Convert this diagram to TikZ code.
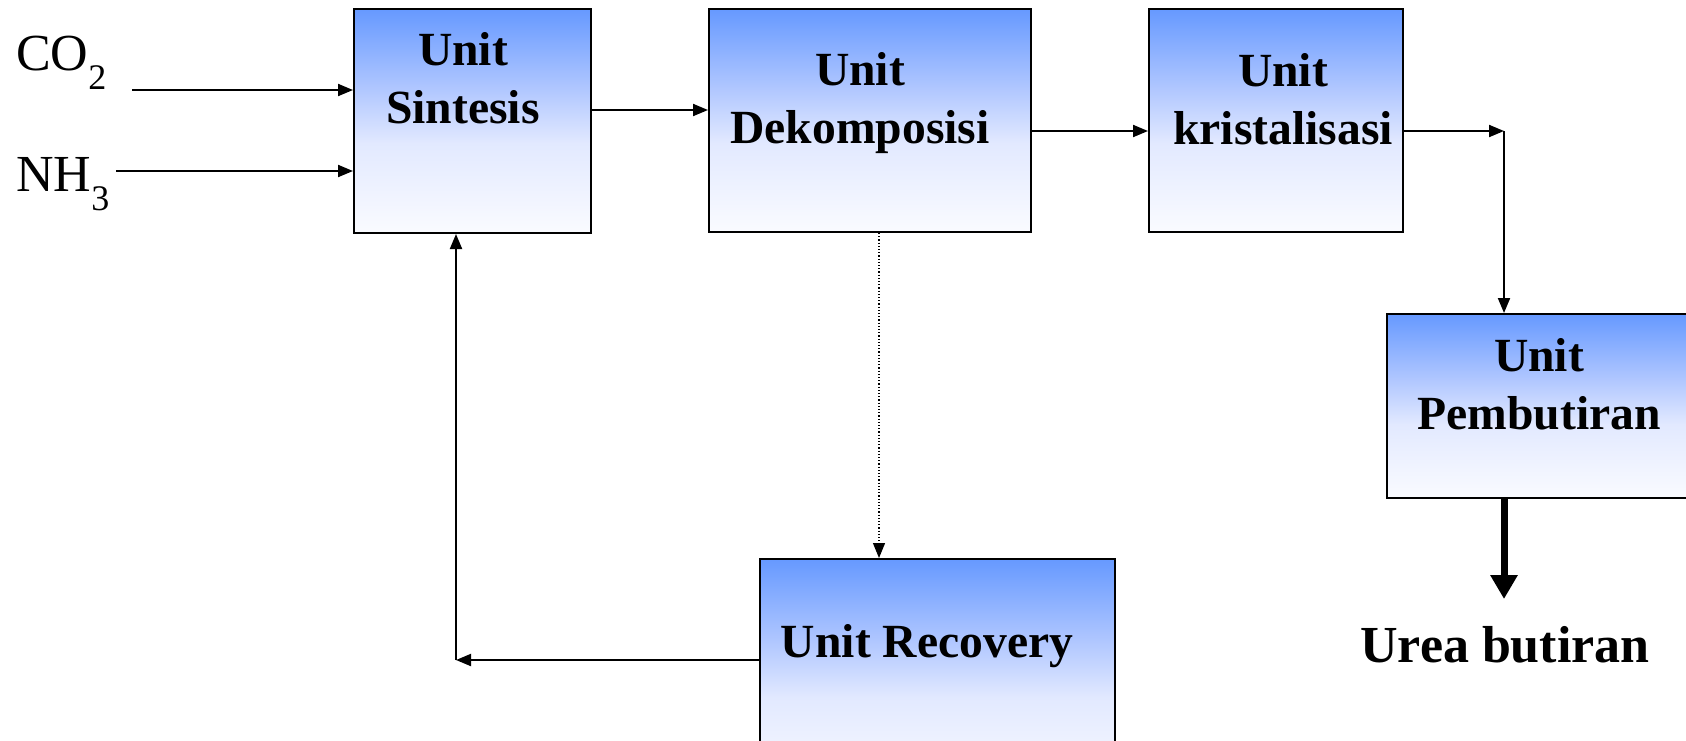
\documentclass[tikz,border=0pt]{standalone}
\usepackage{fontspec}
\setmainfont{Liberation Serif}
\usetikzlibrary{arrows.meta}
\definecolor{gtop}{RGB}{102,153,255}
\definecolor{gmid}{RGB}{175,198,255}
\definecolor{glow}{RGB}{226,233,255}
\definecolor{gbot}{RGB}{250,251,255}
\pgfdeclareverticalshading{boxshade}{100bp}{color(0bp)=(gbot); color(25bp)=(gbot); color(45bp)=(glow); color(57.5bp)=(gmid); color(75bp)=(gtop); color(100bp)=(gtop)}
\newcommand{\chemsub}[1]{\raisebox{-19pt}{\fontsize{36}{38}\selectfont #1}}
\tikzset{
  unitbox/.style={draw=black, line width=2pt, shading=boxshade, rectangle, inner sep=0pt},
  boxtext/.style={font=\fontsize{47.6}{58}\selectfont\bfseries, align=center, inner sep=0pt},
  chemtext/.style={font=\fontsize{52}{60}\selectfont, anchor=base west, inner sep=0pt},
  arr/.style={line width=2pt, -{Triangle[length=15pt,width=12pt]}},
  dotarr/.style={line width=1.2pt, dotted, -{Triangle[length=15pt,width=12pt]}},
  thickarr/.style={line width=7pt, -{Triangle[length=24pt,width=26pt]}}
}
\begin{document}
\begin{tikzpicture}[x=1pt, y=-1pt]
\useasboundingbox (0,0) rectangle (1686,740);
\clip (0,0) rectangle (1686,740);
% boxes
\node[unitbox, minimum width=237pt, minimum height=224pt] (sint) at (472.5,121) {};
\node[unitbox, minimum width=322pt, minimum height=223pt] (dekom) at (870,120.5) {};
\node[unitbox, minimum width=254pt, minimum height=223pt] (krist) at (1276,120.5) {};
\node[unitbox, minimum width=333pt, minimum height=184pt] (pemb) at (1553.5,406) {};
\node[unitbox, minimum width=355pt, minimum height=231pt] (recov) at (937.5,674.5) {};
% texts
\node[boxtext] (sintT) at (463,78) {Unit\\Sintesis};
\node[boxtext] (dekomT) at (860,103) {Unit\\Dekomposisi};
\node[boxtext] (kristT) at (1283,99) {Unit\\kristalisasi};
\node[boxtext] (pembT) at (1539,384) {Unit\\Pembutiran};
\node[boxtext] (recovT) at (927,646) {Unit Recovery};
\node[font=\fontsize{52}{60}\selectfont\bfseries, inner sep=0pt] (urea) at (1505,645) {Urea butiran};
\node[chemtext] (co2) at (16,70) {CO\chemsub{2}};
\node[chemtext] (nh3) at (16,191) {NH\chemsub{3}};
% coordinates
\coordinate (co2a) at (132,90);
\coordinate (nh3a) at (116,171);
\coordinate (s1) at (0,110);
\coordinate (s2) at (0,131);
\coordinate (kc) at (1504,131);
\coordinate (dx) at (879,0);
\coordinate (rc) at (456,660);
\coordinate (uend) at (1504,599);
% connectors
\draw[arr] (co2a) -- (sint.west |- co2a);
\draw[arr] (nh3a) -- (sint.west |- nh3a);
\draw[arr] (sint.east |- s1) -- (dekom.west |- s1);
\draw[arr] (dekom.east |- s2) -- (krist.west |- s2);
\draw[arr] (krist.east |- s2) -- (kc);
\draw[arr] (kc) -- (pemb.north -| kc);
\draw[dotarr] (dekom.south -| dx) -- (recov.north -| dx);
\draw[arr] (recov.west |- rc) -- (rc);
\draw[arr] (rc) -- (sint.south -| rc);
\draw[thickarr] (pemb.south -| uend) -- (uend);
\end{tikzpicture}
\end{document}
